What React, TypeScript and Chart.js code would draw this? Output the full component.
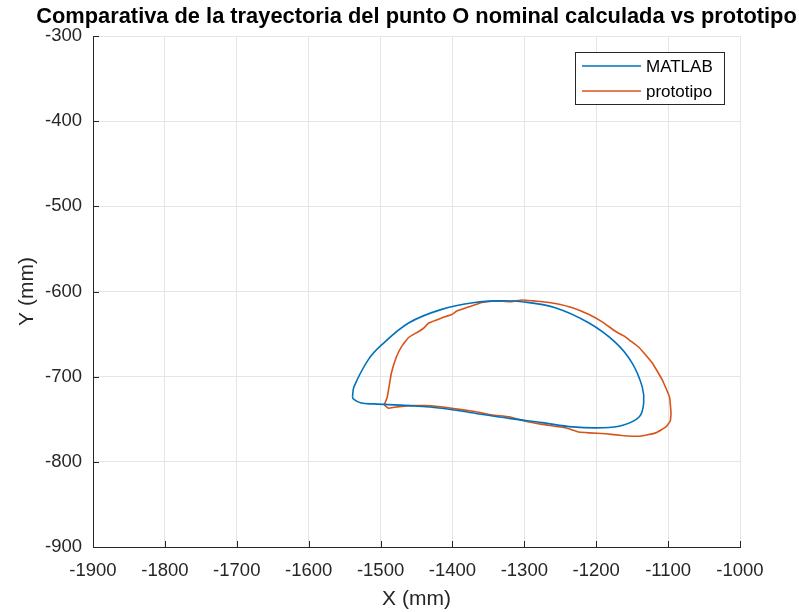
import React, { useEffect, useRef } from "react";
import { Chart, registerables } from "chart.js";

Chart.register(...registerables);

// Nominal trajectory of point O computed in MATLAB (mm)
const matlabX = [
  -1539, -1537, -1517, -1499, -1461, -1415, -1369, -1335, -1303, -1257,
  -1210, -1173, -1150, -1136, -1134, -1140, -1163, -1191, -1233, -1275,
  -1321, -1369, -1415, -1461, -1509, -1527, -1538, -1539,
];
const matlabY = [
  -723, -712, -680, -663, -637, -621, -613, -611, -612, -619,
  -637, -660, -684, -712, -731, -747, -757, -760, -759, -754,
  -749, -743, -737, -734, -732, -731, -726, -723,
];

// Trajectory measured on the prototype (mm)
const protoX = [
  -1495, -1491, -1489, -1485, -1478, -1471, -1461, -1447, -1440, -1433,
  -1415, -1401, -1394, -1377, -1359, -1341, -1320, -1303, -1288, -1275,
  -1257, -1233, -1210, -1191, -1173, -1160, -1154, -1140, -1122, -1108,
  -1098, -1096, -1097, -1103, -1117, -1140, -1164, -1187, -1210, -1224,
  -1243, -1275, -1300, -1321, -1345, -1369, -1401, -1420, -1439, -1461,
  -1481, -1489, -1495,
];
const protoY = [
  -733, -725, -716, -696, -677, -665, -654, -647, -643, -637,
  -631, -627, -623, -618, -613, -611, -612, -610, -611, -612,
  -614, -619, -627, -636, -647, -653, -657, -666, -684, -704,
  -724, -743, -752, -759, -766, -770, -769, -767, -766, -765,
  -760, -756, -752, -747, -745, -741, -737, -735, -734, -734,
  -736, -737, -733,
];

const xTicks = [-1900, -1800, -1700, -1600, -1500, -1400, -1300, -1200, -1100, -1000];
const yTicks = [-900, -800, -700, -600, -500, -400, -300];

const seriesNames = ["MATLAB", "prototipo"];
const seriesColors = ["#0072BD", "#D95319"];

const titleText = "Comparativa de la trayectoria del punto O nominal calculada vs prototipo";
const xLabel = "X (mm)";
const yLabel = "Y (mm)";

const FONT = "'Liberation Sans', Arial, Helvetica, sans-serif";
const AXIS_COLOR = "#262626";
const TITLE_WIDTH = 761;

const toPoints = (xs: number[], ys: number[]) => xs.map((x, i) => ({ x, y: ys[i] }));

// Title, axis labels, inward tick marks and boxed legend, MATLAB style
const decorations = {
  id: "decorations",
  afterDraw(chart: any) {
    const { ctx, chartArea } = chart;
    const { left, right, top, bottom } = chartArea;
    const xs = chart.scales.x;
    const ys = chart.scales.y;
    ctx.save();

    // inward ticks
    ctx.strokeStyle = AXIS_COLOR;
    ctx.lineWidth = 1;
    ctx.beginPath();
    xTicks.forEach((v) => {
      const px = Math.round(xs.getPixelForValue(v)) + 0.5;
      ctx.moveTo(px, bottom);
      ctx.lineTo(px, bottom - 6);
    });
    yTicks.forEach((v) => {
      const py = Math.round(ys.getPixelForValue(v)) + 0.5;
      ctx.moveTo(left, py);
      ctx.lineTo(left + 6, py);
    });
    ctx.stroke();

    // title, sized to span the figure width
    ctx.fillStyle = "#000000";
    ctx.font = `bold 20px ${FONT}`;
    const w20 = ctx.measureText(titleText).width;
    const tSize = (20 * TITLE_WIDTH) / w20;
    ctx.font = `bold ${tSize.toFixed(2)}px ${FONT}`;
    ctx.textAlign = "center";
    ctx.textBaseline = "middle";
    ctx.fillText(titleText, (left + right) / 2, 17);

    // axis labels
    ctx.fillStyle = AXIS_COLOR;
    ctx.font = `21px ${FONT}`;
    ctx.fillText(xLabel, (left + right) / 2, 599);
    ctx.save();
    ctx.translate(27, (top + bottom) / 2);
    ctx.rotate(-Math.PI / 2);
    ctx.fillText(yLabel, 0, 0);
    ctx.restore();

    // legend
    const lx = 575.5;
    const ly = 52.5;
    const lw = 149;
    const lh = 52;
    ctx.fillStyle = "#ffffff";
    ctx.fillRect(lx, ly, lw, lh);
    ctx.strokeStyle = AXIS_COLOR;
    ctx.lineWidth = 1;
    ctx.strokeRect(lx, ly, lw, lh);
    ctx.font = `17px ${FONT}`;
    ctx.textAlign = "left";
    seriesNames.forEach((name, i) => {
      const yy = 66 + i * 25;
      ctx.strokeStyle = seriesColors[i];
      ctx.lineWidth = 1.5;
      ctx.beginPath();
      ctx.moveTo(582, yy);
      ctx.lineTo(641, yy);
      ctx.stroke();
      ctx.fillStyle = "#000000";
      ctx.fillText(name, 646, yy + 1);
    });

    ctx.restore();
  },
};

export default function App() {
  const canvasRef = useRef<HTMLCanvasElement | null>(null);

  useEffect(() => {
    const canvas = canvasRef.current;
    if (!canvas) return;
    const chart = new Chart(canvas, {
      type: "scatter",
      data: {
        datasets: [
          {
            label: seriesNames[0],
            data: toPoints(matlabX, matlabY),
            showLine: true,
            borderColor: seriesColors[0],
            backgroundColor: seriesColors[0],
            borderWidth: 1.6,
            pointRadius: 0,
            tension: 0.35,
            fill: false,
          },
          {
            label: seriesNames[1],
            data: toPoints(protoX, protoY),
            showLine: true,
            borderColor: seriesColors[1],
            backgroundColor: seriesColors[1],
            borderWidth: 1.6,
            pointRadius: 0,
            tension: 0.1,
            fill: false,
          },
        ],
      },
      options: {
        responsive: false,
        animation: false,
        layout: { padding: { left: 0, right: 59, top: 36, bottom: 0 } },
        plugins: {
          legend: { display: false },
          title: { display: false },
          tooltip: { enabled: false },
        },
        scales: {
          x: {
            type: "linear",
            min: -1900,
            max: -1000,
            afterBuildTicks: (scale: any) => {
              scale.ticks = xTicks.map((value) => ({ value }));
            },
            afterFit: (scale: any) => {
              scale.height = 65;
            },
            ticks: {
              color: AXIS_COLOR,
              font: { family: FONT, size: 18.5 },
              padding: 13,
              maxRotation: 0,
              autoSkip: false,
              callback: (v: any) => String(v),
            },
            grid: { color: "#e5e5e5", lineWidth: 1, drawTicks: false },
            border: { display: true, color: AXIS_COLOR, width: 1 },
          },
          y: {
            type: "linear",
            min: -900,
            max: -300,
            afterBuildTicks: (scale: any) => {
              scale.ticks = yTicks.map((value) => ({ value }));
            },
            afterFit: (scale: any) => {
              scale.width = 93;
            },
            ticks: {
              color: AXIS_COLOR,
              font: { family: FONT, size: 18.5 },
              padding: 11,
              autoSkip: false,
              callback: (v: any) => String(v),
            },
            grid: { color: "#e5e5e5", lineWidth: 1, drawTicks: false },
            border: { display: true, color: AXIS_COLOR, width: 1 },
          },
        },
      },
      plugins: [decorations],
    });
    return () => chart.destroy();
  }, []);

  return (
    <div style={{ position: "fixed", left: 0, top: 0, width: 799, height: 612, background: "#ffffff" }}>
      <canvas ref={canvasRef} width={799} height={612} style={{ display: "block" }} />
    </div>
  );
}
